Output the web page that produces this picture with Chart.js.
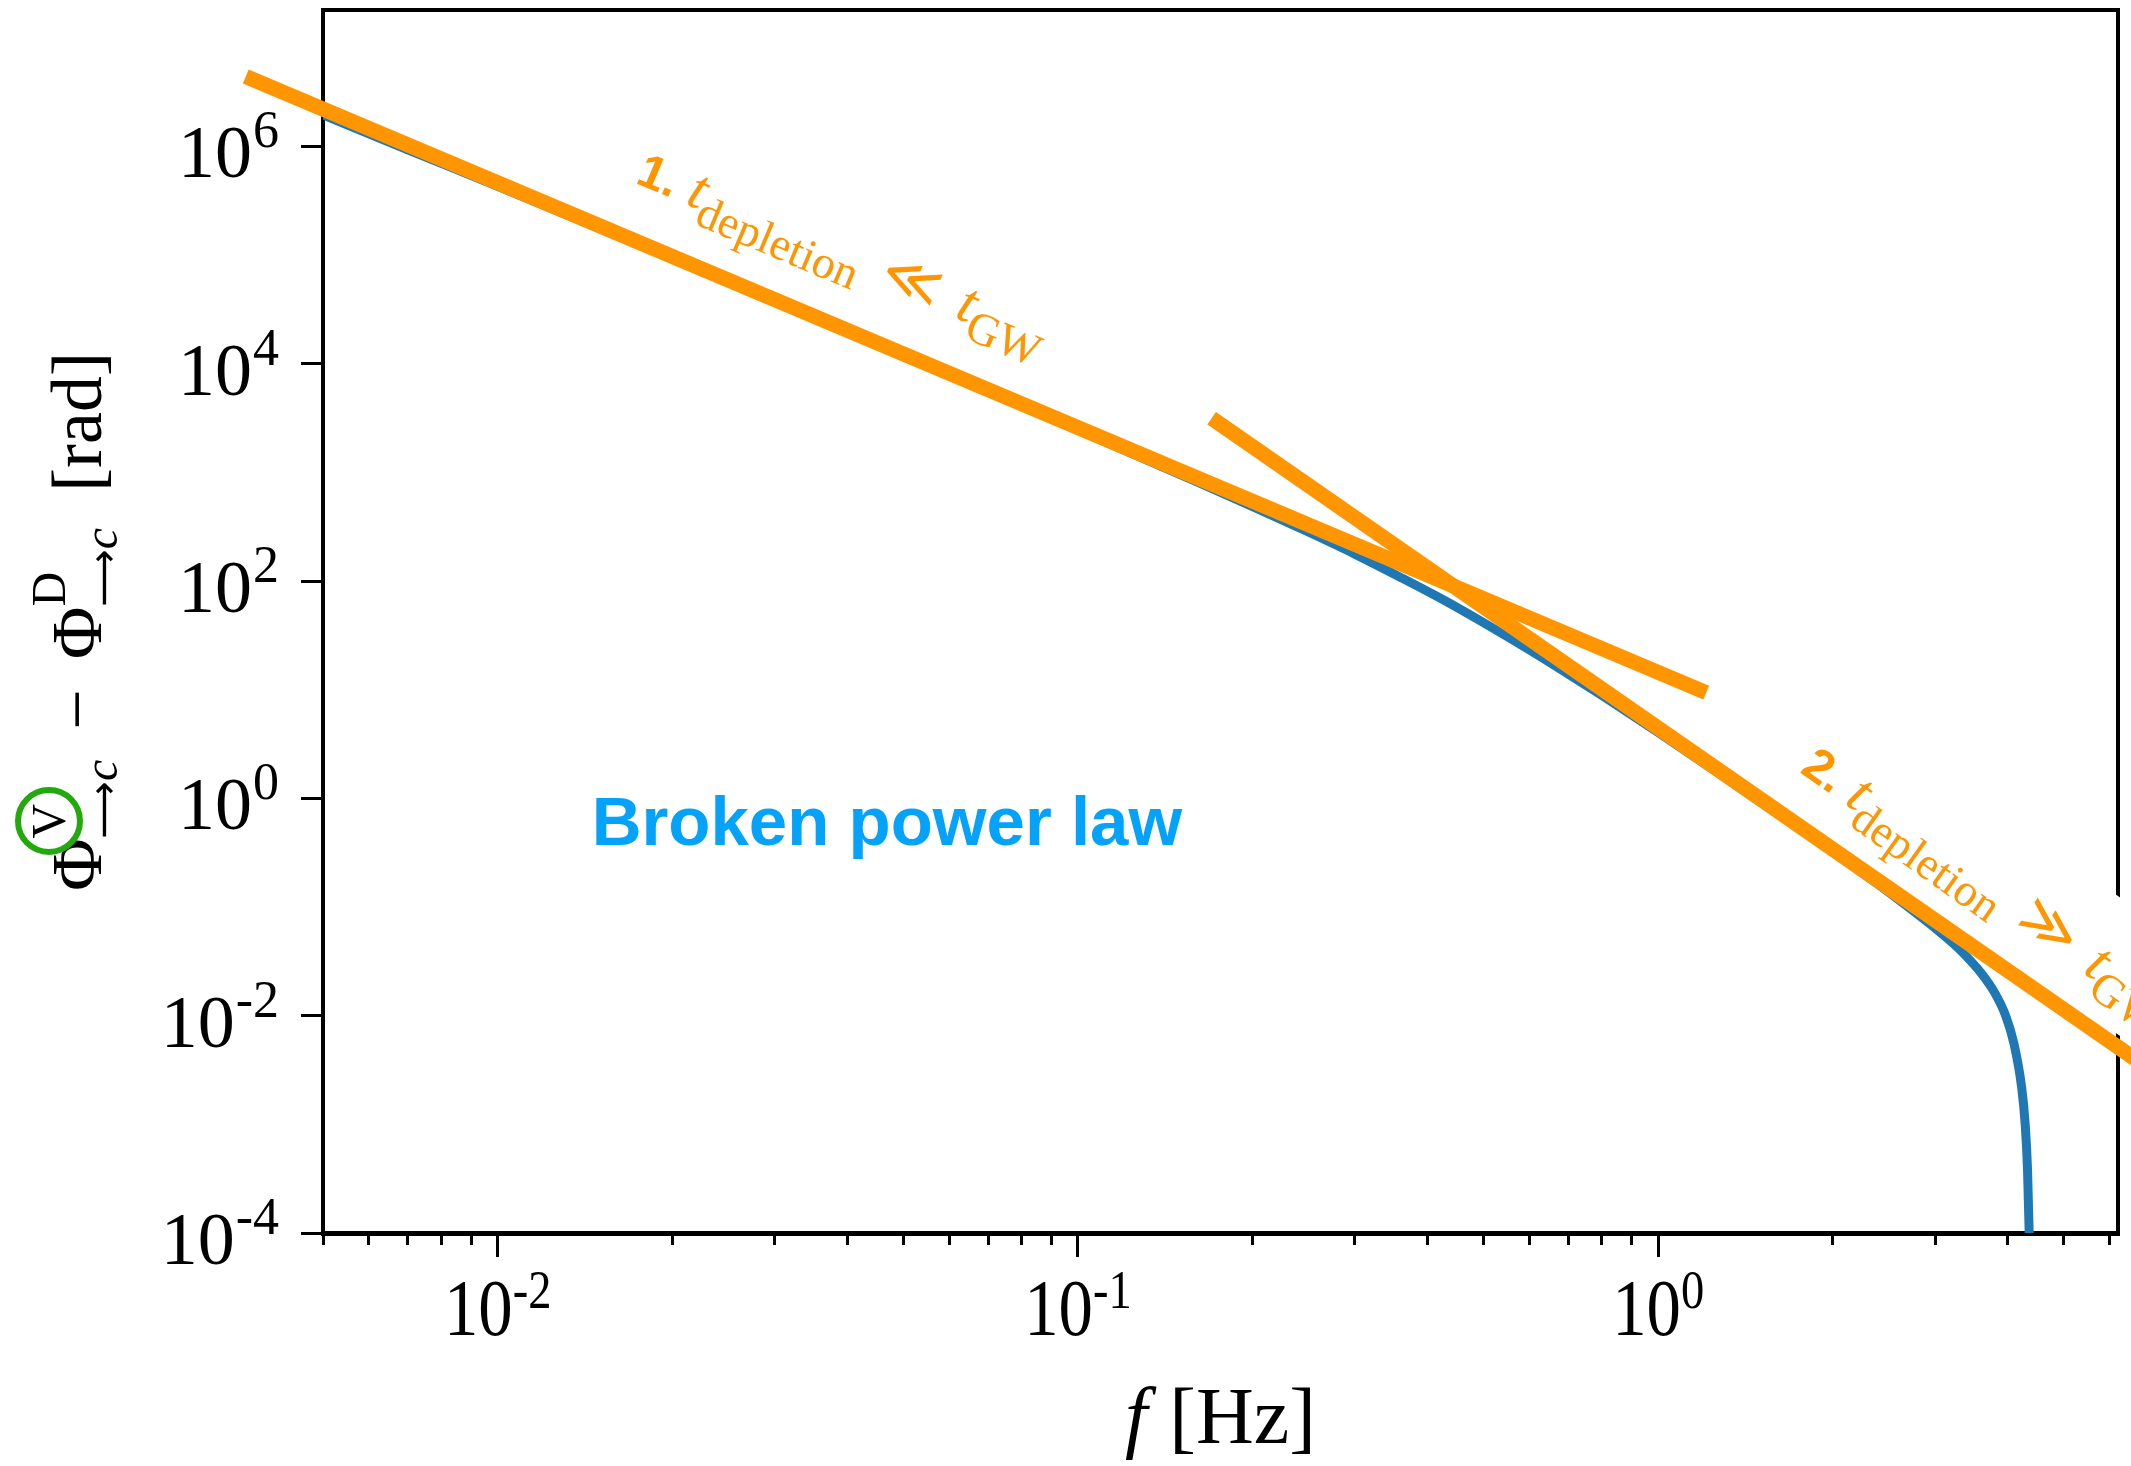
<!DOCTYPE html>
<html>
<head>
<meta charset="utf-8">
<title>Broken power law</title>
<script src="https://cdn.jsdelivr.net/npm/chart.js@4.4.1/dist/chart.umd.min.js"></script>
<style>
  html, body { margin: 0; padding: 0; background: #fff; }
  canvas { display: block; }
</style>
</head>
<body>
<canvas id="chart" width="2131" height="1466"></canvas>
<script>
// values
const curveF = [0.005, 0.007, 0.01, 0.02, 0.03, 0.05, 0.07, 0.1, 0.13, 0.16, 0.2, 0.25, 0.3, 0.36, 0.43,
  0.5, 0.6, 0.7, 0.8, 1.0, 1.2, 1.5, 2.0, 2.4, 2.78, 3.0, 3.26, 3.45, 3.61, 3.8, 3.97, 4.1, 4.23,
  4.29, 4.33, 4.36, 4.38];
const curvePhi = [1.95e6, 9.3e5, 4.3e5, 9.3e4, 3.7e4, 1.17e4, 5.5e3, 2.45e3, 1.33e3, 824, 485, 281, 177, 108, 65.5,
  41.4, 23.2, 13.9, 8.83, 4.03, 2.09, 0.927, 0.321, 0.16, 0.0883, 0.064, 0.0437, 0.0322, 0.0243, 0.0163, 0.01,
  0.00562, 0.00219, 0.001, 3.8e-4, 9.3e-5, 2e-5];
const fitLowF = [0.00368, 1.21];
const fitLowPhi = [4.4e6, 9.4];
const fitHighF = [0.170, 8.0];
const fitHighPhi = [3150, 0.002];

const xMajorTicks = [0.01, 0.1, 1];
const xTickExp = ['-2', '-1', '0'];
const xMinorTicks = [0.005, 0.006, 0.007, 0.008, 0.009,
  0.02, 0.03, 0.04, 0.05, 0.06, 0.07, 0.08, 0.09,
  0.2, 0.3, 0.4, 0.5, 0.6, 0.7, 0.8, 0.9,
  2, 3, 4, 5, 6];
const yTicks = [1e-4, 1e-2, 1, 1e2, 1e4, 1e6];
const yTickExp = ['-4', '-2', '0', '2', '4', '6'];

const ORANGE = '#ff9500';
const BLUE = '#1f77b4';
const SERIF = '"Liberation Serif", "DejaVu Serif", serif';
const SANS = '"Liberation Sans", Arial, sans-serif';

const pts = (xs, ys) => xs.map((v, i) => ({ x: v, y: ys[i] }));

// lay out a row of text pieces along +x, stacked pieces don't advance
function placeRuns(ctx, runs) {
  let pos = 0;
  const items = [];
  for (const r of runs) {
    pos += r.gap || 0;
    ctx.font = r.font;
    const w = ctx.measureText(r.text).width;
    items.push({ r, x: pos, w });
    if (!r.stack) pos += w;
  }
  return { items, width: pos };
}
function paintRuns(ctx, placed) {
  for (const p of placed.items) {
    ctx.font = p.r.font;
    ctx.fillText(p.r.text, p.x, p.r.dy || 0);
  }
}

const M = `72px ${SERIF}`, S = `48px ${SERIF}`, SI = `italic 48px ${SERIF}`;
const AR = '40px "DejaVu Sans", sans-serif';
const yTitle = [
  { text: 'Φ', font: M },
  { text: 'V', font: S, dy: -36, stack: true, ring: true },
  { text: '⟶', font: AR, dy: 16 },
  { text: 'c', font: SI, dy: 16 },
  { text: '−', font: M, gap: 30 },
  { text: 'Φ', font: M, gap: 30 },
  { text: 'D', font: S, dy: -36, stack: true },
  { text: '⟶', font: AR, dy: 16 },
  { text: 'c', font: SI, dy: 16 },
  { text: '[rad]', font: M, gap: 36 }
];
const xTitle = [
  { text: 'f', font: `italic 80px ${SERIF}` },
  { text: '[Hz]', font: `80px ${SERIF}`, gap: 22 }
];
const REL = `58px ${SERIF}`;
const noteLow = [
  { text: '1.', font: `bold 48px ${SANS}` },
  { text: 't', font: `italic 58px ${SERIF}`, gap: 14 },
  { text: 'depletion', font: `46px ${SERIF}`, dy: 15 },
  { text: '≪', font: REL, gap: 22 },
  { text: 't', font: `italic 58px ${SERIF}`, gap: 22 },
  { text: 'GW', font: `46px ${SERIF}`, dy: 15 }
];
const noteHigh = [
  { text: '2.', font: `bold 48px ${SANS}` },
  { text: 't', font: `italic 58px ${SERIF}`, gap: 14 },
  { text: 'depletion', font: `46px ${SERIF}`, dy: 15 },
  { text: '≫', font: REL, gap: 22 },
  { text: 't', font: `italic 58px ${SERIF}`, gap: 22 },
  { text: 'GW', font: `46px ${SERIF}`, dy: 15 }
];

const decor = {
  id: 'decor',
  afterDraw(chart) {
    const { ctx, chartArea: a, scales: { x, y } } = chart;
    ctx.save();
    ctx.textBaseline = 'alphabetic';
    ctx.textAlign = 'left';
    ctx.fillStyle = '#000';

    // y tick labels
    yTicks.forEach((v, i) => {
      const py = y.getPixelForValue(v);
      ctx.font = `52px ${SERIF}`;
      const sw = ctx.measureText(yTickExp[i]).width;
      ctx.fillText(yTickExp[i], 279 - sw, py + 1);
      ctx.font = `74px ${SERIF}`;
      const mw = ctx.measureText('10').width;
      ctx.fillText('10', 279 - sw - 1 - mw, py + 31);
    });

    // x tick labels
    xMajorTicks.forEach((v, i) => {
      const px = x.getPixelForValue(v);
      ctx.save();
      ctx.translate(px, a.bottom + 102);
      ctx.scale(0.93, 1.08);
      ctx.font = `74px ${SERIF}`;
      const w1 = ctx.measureText('10').width;
      ctx.font = `50px ${SERIF}`;
      const w2 = ctx.measureText(xTickExp[i]).width;
      const x0 = -(w1 + w2) / 2;
      ctx.font = `74px ${SERIF}`;
      ctx.fillText('10', x0, 0);
      ctx.font = `50px ${SERIF}`;
      ctx.fillText(xTickExp[i], x0 + w1, -25);
      ctx.restore();
    });

    // x title
    const xt = placeRuns(ctx, xTitle);
    ctx.save();
    ctx.translate((a.left + a.right) / 2 - xt.width / 2, a.bottom + 210);
    paintRuns(ctx, xt);
    ctx.restore();

    // y title, rotated
    const yt = placeRuns(ctx, yTitle);
    ctx.save();
    ctx.translate(101, (a.top + a.bottom) / 2 + yt.width / 2);
    ctx.rotate(-Math.PI / 2);
    paintRuns(ctx, yt);
    const ring = yt.items.find(p => p.r.ring);
    ctx.strokeStyle = '#22aa0c';
    ctx.lineWidth = 6;
    ctx.beginPath();
    ctx.arc(ring.x + ring.w / 2, ring.r.dy - 16, 31, 0, Math.PI * 2);
    ctx.stroke();
    ctx.restore();

    // label inside the axes
    ctx.fillStyle = '#05a2f9';
    ctx.font = `bold 69px ${SANS}`;
    ctx.fillText('Broken power law', x.getPixelForValue(0.01452), y.getPixelForValue(0.374));

    // notes along the two power laws
    const slope = (fs, ps) => Math.atan2(
      y.getPixelForValue(ps[1]) - y.getPixelForValue(ps[0]),
      x.getPixelForValue(fs[1]) - x.getPixelForValue(fs[0]));

    ctx.fillStyle = ORANGE;
    const n1 = placeRuns(ctx, noteLow);
    ctx.save();
    ctx.translate(x.getPixelForValue(0.0172), y.getPixelForValue(4.66e5));
    ctx.rotate(slope(fitLowF, fitLowPhi));
    paintRuns(ctx, n1);
    ctx.restore();

    const n2 = placeRuns(ctx, noteHigh);
    ctx.save();
    ctx.translate(x.getPixelForValue(1.749), y.getPixelForValue(1.76));
    ctx.rotate(slope(fitHighF, fitHighPhi) + 0.01);
    ctx.fillStyle = '#fff';
    ctx.fillRect(-14, -83, n2.width + 80, 113);
    ctx.fillStyle = ORANGE;
    paintRuns(ctx, n2);
    ctx.restore();

    ctx.restore();
  }
};

const noFit = s => { s.height = 0; s.width = 0; };

new Chart(document.getElementById('chart'), {
  type: 'line',
  data: {
    datasets: [
      { data: pts(fitLowF, fitLowPhi), borderColor: ORANGE, borderWidth: 15, borderCapStyle: 'butt',
        pointRadius: 0, clip: false, xAxisID: 'x', yAxisID: 'y' },
      { data: pts(fitHighF, fitHighPhi), borderColor: ORANGE, borderWidth: 15, borderCapStyle: 'butt',
        pointRadius: 0, clip: false, xAxisID: 'x', yAxisID: 'y' },
      { data: pts(curveF, curvePhi), borderColor: BLUE, borderWidth: 9, pointRadius: 0,
        cubicInterpolationMode: 'monotone', xAxisID: 'x', yAxisID: 'y' }
    ]
  },
  options: {
    responsive: false,
    devicePixelRatio: 1,
    animation: false,
    events: [],
    layout: { padding: { left: 323, right: 13, top: 10, bottom: 233 } },
    plugins: { legend: { display: false }, tooltip: { enabled: false } },
    scales: {
      x: {
        type: 'logarithmic', position: 'bottom', min: 0.005, max: 6.2,
        afterFit: noFit,
        afterBuildTicks: s => { s.ticks = xMajorTicks.map(v => ({ value: v })); },
        ticks: { display: false },
        grid: { drawOnChartArea: false, tickLength: 24, tickWidth: 3, lineWidth: 3, tickColor: '#000' },
        border: { display: true, color: '#000', width: 5 }
      },
      xMinor: {
        type: 'logarithmic', position: 'bottom', min: 0.005, max: 6.2,
        afterFit: noFit,
        afterBuildTicks: s => { s.ticks = xMinorTicks.map(v => ({ value: v })); },
        ticks: { display: false },
        grid: { drawOnChartArea: false, tickLength: 12, tickWidth: 3, lineWidth: 3, tickColor: '#000' },
        border: { display: false }
      },
      xTop: {
        type: 'linear', position: 'top', min: 0, max: 1,
        afterFit: noFit,
        ticks: { display: false },
        grid: { display: false },
        border: { display: true, color: '#000', width: 4 }
      },
      y: {
        type: 'logarithmic', position: 'left', min: 1e-4, max: 1.8e7,
        afterFit: noFit,
        afterBuildTicks: s => { s.ticks = yTicks.map(v => ({ value: v })); },
        ticks: { display: false },
        grid: { drawOnChartArea: false, tickLength: 22, tickWidth: 3, lineWidth: 3, tickColor: '#000' },
        border: { display: true, color: '#000', width: 4 }
      },
      yRight: {
        type: 'linear', position: 'right', min: 0, max: 1,
        afterFit: noFit,
        ticks: { display: false },
        grid: { display: false },
        border: { display: true, color: '#000', width: 4 }
      }
    }
  },
  plugins: [decor]
});
</script>
</body>
</html>
